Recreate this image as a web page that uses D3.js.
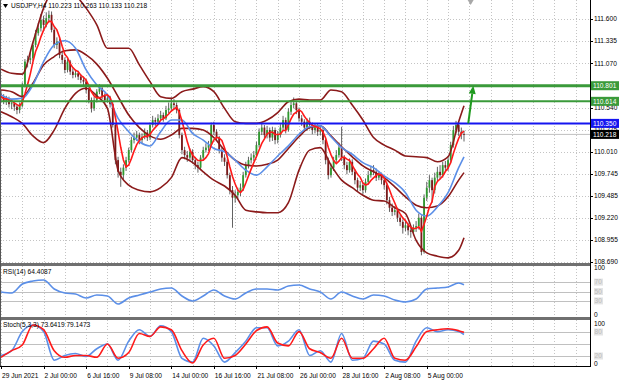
<!DOCTYPE html>
<html><head><meta charset="utf-8">
<script src="https://cdn.jsdelivr.net/npm/d3@7/dist/d3.min.js"></script>
<style>body{margin:0;background:#fff}svg{display:block}text{font-family:"Liberation Sans",Arial,sans-serif}</style>
</head><body><svg id="c" width="620" height="382"></svg>
<script>
// ---------- DATA ----------
const symbol = "USDJPY,H4";
const lastOHLC = [110.223, 110.263, 110.133, 110.218];
const firstOpen = 110.70;
const closes = [110.67,110.62,110.64,110.58,110.59,110.55,110.51,110.56,110.81,111.09,
111.11,111.13,111.29,111.43,111.49,111.59,111.53,111.61,111.65,111.47,
111.29,111.33,111.17,111.11,110.99,111.09,110.97,110.93,110.95,110.91,
110.87,110.85,110.75,110.63,110.53,110.63,110.73,110.77,110.68,110.63,
110.65,110.58,110.33,109.91,109.77,109.73,109.82,109.91,110.03,110.15,
110.18,110.21,110.15,110.19,110.24,110.18,110.33,110.39,110.37,110.41,
110.45,110.41,110.51,110.53,110.59,110.57,110.51,110.21,110.03,109.97,
109.94,110.01,109.91,109.85,109.82,109.94,110.03,110.06,110.09,110.33,
110.25,110.18,110.03,109.94,109.89,109.73,109.55,109.46,109.49,109.53,
109.58,109.73,109.85,109.91,109.94,109.97,110.09,110.25,110.30,110.21,
110.27,110.18,110.27,110.15,110.21,110.30,110.39,110.27,110.49,110.57,
110.59,110.51,110.41,110.37,110.30,110.37,110.33,110.27,110.30,110.25,
110.27,110.15,109.91,109.73,109.82,109.91,109.97,110.06,109.94,109.85,
109.79,109.89,109.77,109.67,109.58,109.61,109.55,109.65,109.73,109.79,
109.77,109.70,109.73,109.67,109.61,109.43,109.34,109.29,109.31,109.22,
109.17,109.10,109.13,109.07,109.05,109.10,109.12,109.22,108.81,109.46,
109.58,109.67,109.55,109.70,109.77,109.73,109.85,109.82,109.91,110.09,
110.27,110.33,110.25,110.223,110.218];
const highs = [110.74,110.70,110.68,110.67,110.63,110.62,110.58,110.60,110.84,111.12,
111.16,111.20,111.33,111.47,111.55,111.66,111.64,111.68,111.70,111.69,
111.50,111.38,111.36,111.22,111.14,111.12,111.11,111.01,110.99,110.98,
110.94,110.91,110.88,110.78,110.66,110.67,110.76,110.82,110.80,110.71,
110.70,110.68,110.60,110.35,109.95,109.82,109.86,109.95,110.06,110.19,
110.24,110.26,110.24,110.23,110.29,110.27,110.36,110.44,110.42,110.46,
110.50,110.48,110.56,110.60,110.66,110.64,110.60,110.53,110.24,110.07,
110.02,110.05,110.04,109.95,109.89,109.97,110.07,110.11,110.14,110.36,
110.37,110.28,110.20,110.06,109.98,109.92,109.76,109.60,109.55,109.58,
109.63,109.77,109.89,109.95,109.99,110.02,110.13,110.29,110.36,110.33,
110.32,110.30,110.31,110.30,110.26,110.34,110.44,110.42,110.53,110.63,
110.66,110.62,110.54,110.45,110.40,110.41,110.42,110.36,110.35,110.34,
110.31,110.30,110.17,109.94,109.87,109.95,110.03,110.12,110.31,109.97,
109.89,109.93,109.92,109.80,109.70,109.66,109.64,109.69,109.78,109.84,
109.85,109.81,109.78,109.76,109.70,109.64,109.47,109.39,109.36,109.34,
109.26,109.20,109.19,109.16,109.11,109.14,109.18,109.27,109.25,109.50,
109.65,109.73,109.70,109.76,109.83,109.85,109.89,109.90,109.96,110.13,
110.32,110.38,110.36,110.30,110.263];
const lows = [110.62,110.58,110.57,110.54,110.52,110.50,110.46,110.47,110.54,110.78,
111.02,111.06,111.10,111.26,111.40,111.45,111.47,111.50,111.56,111.44,
111.25,111.24,111.13,111.06,110.95,110.96,110.93,110.89,110.90,110.87,
110.83,110.80,110.71,110.59,110.48,110.50,110.60,110.70,110.64,110.59,
110.60,110.54,110.30,109.86,109.70,109.59,109.68,109.78,109.88,110.00,
110.11,110.14,110.10,110.11,110.16,110.14,110.15,110.30,110.32,110.34,
110.38,110.37,110.39,110.47,110.50,110.52,110.47,110.17,109.98,109.92,
109.89,109.90,109.87,109.80,109.76,109.79,109.91,110.00,110.02,110.06,
110.21,110.14,109.99,109.89,109.84,109.69,109.50,109.10,109.40,109.44,
109.48,109.54,109.70,109.81,109.87,109.90,109.94,110.06,110.21,110.17,
110.17,110.13,110.14,110.10,110.11,110.18,110.27,110.23,110.25,110.45,
110.53,110.46,110.37,110.32,110.25,110.26,110.28,110.22,110.23,110.20,
110.21,110.10,109.86,109.68,109.70,109.78,109.88,109.94,109.90,109.80,
109.74,109.76,109.73,109.62,109.53,109.54,109.50,109.52,109.62,109.70,
109.73,109.66,109.67,109.62,109.56,109.38,109.29,109.24,109.25,109.17,
109.12,109.03,109.06,109.01,108.98,109.01,109.05,109.08,108.77,108.79,
109.42,109.52,109.40,109.51,109.66,109.68,109.70,109.77,109.78,109.88,
110.06,110.23,110.20,110.16,110.133];

// indicator readings at these bar indices
const sampleIdx = [0,4,8,12,16,20,24,28,32,36,40,44,48,52,56,60,64,68,72,76,80,84,88,92,96,100,104,108,112,116,120,124,128,132,136,140,144,148,152,156,160,164,168,172,174];
const bbUpper = [111.00,110.95,110.94,111.32,111.73,111.97,112.04,111.89,111.73,111.53,111.25,111.25,111.25,111.05,110.85,110.67,110.65,110.73,110.76,110.79,110.73,110.53,110.37,110.35,110.35,110.39,110.48,110.61,110.64,110.63,110.63,110.75,110.73,110.57,110.39,110.18,110.09,110.03,109.96,109.95,109.94,109.89,109.95,110.37,110.56];
const bbMiddle = [110.75,110.73,110.67,110.83,111.05,111.15,111.22,111.23,111.17,111.06,110.89,110.67,110.45,110.30,110.20,110.16,110.21,110.29,110.29,110.27,110.18,110.03,109.91,109.85,109.84,109.86,109.91,110.05,110.19,110.30,110.32,110.20,110.07,109.95,109.84,109.77,109.70,109.59,109.47,109.37,109.34,109.36,109.47,109.67,109.76];
const bbLower = [110.49,110.43,110.35,110.20,110.12,110.27,110.53,110.71,110.77,110.68,110.53,109.79,109.61,109.55,109.53,109.58,109.70,109.94,109.88,109.77,109.67,109.60,109.49,109.31,109.29,109.28,109.28,109.40,109.79,110.03,110.06,109.85,109.67,109.58,109.49,109.43,109.42,109.34,109.27,108.95,108.80,108.76,108.74,108.83,108.98];
const maSlow = [110.69,110.64,110.65,110.81,111.09,111.29,111.34,111.25,110.99,110.81,110.69,110.41,110.25,110.13,110.08,110.25,110.39,110.39,110.23,110.15,110.05,110.01,109.91,109.79,109.73,109.83,109.96,110.08,110.22,110.31,110.32,110.19,110.06,109.98,109.88,109.82,109.72,109.64,109.52,109.31,109.24,109.35,109.52,109.82,109.95];
const maFastPeriod = 5;
const rsi = [48.9,46.8,66.0,72.3,74.5,55.3,46.8,44.7,36.2,42.6,40.4,23.4,36.2,42.6,48.9,55.3,57.4,40.4,29.8,40.4,53.2,40.4,34.0,46.8,55.3,55.3,53.2,61.7,63.8,55.3,48.9,34.0,48.9,40.4,34.0,42.6,40.4,31.9,27.7,34.0,55.3,57.4,59.6,68.1,64.4087];
const stochMain = [21.4,33.3,81,97.6,81,9.5,21.4,26.2,19,38.1,50,9.5,57.1,85.7,69,95.2,81,14.3,4.8,64.3,45.2,4.8,28.6,57.1,90.5,90.5,45.2,57.1,85.7,21.4,33.3,4.8,76.2,9.5,14.3,57.1,50,9.5,4.8,57.1,90.5,81,85.7,81,73.6419];
const stochSignal = [16.7,33.3,47.6,97.6,85.7,33.3,16.7,21.4,21.4,16.7,50,14.3,28.6,76.2,69,92.9,85.7,33.3,2.4,47.6,64.3,14.3,21.4,50,83.3,92.9,52.4,45.2,81,38.1,28.6,14.3,64.3,14.3,14.3,38.1,64.3,14.3,9.5,42.9,81,85.7,88.1,83.3,79.1473];

const priceTicks = ["111.600","111.335","111.070","110.805","110.540","110.275","110.010","109.745","109.485","109.220","108.955","108.690"];
const levels = [{v:110.801,c:"#3a9a3a",w:3},{v:110.614,c:"#3a9a3a",w:2},{v:110.350,c:"#1515f0",w:2}];
const arrowFrom = [175.6, 110.35], arrowTo = [177.5, 110.80];
const timeIdx = [0,16,32,48,64,80,96,112,128,144,160];
const timeLabels = ["29 Jun 2021","2 Jul 00:00","6 Jul 16:00","9 Jul 08:00","14 Jul 00:00","16 Jul 16:00","21 Jul 08:00","26 Jul 00:00","28 Jul 16:00","2 Aug 08:00","5 Aug 00:00"];
const rsiLevels = [70,50,30];
const stochLevels = [80,50,20];

// ---------- DRAW ----------
const svg = d3.select("#c");
const R = 590;                      // right edge of plots
const main = {t:0,b:263}, rp = {t:266,b:317}, sp = {t:320,b:366};
const x = d3.scaleLinear().domain([0,174]).range([1,464]);
const yM = d3.scaleLinear().domain([108.690,111.600]).range([262,19]);
const yR = d3.scaleLinear().domain([0,100]).range([315,268]);
const yS = d3.scaleLinear().domain([0,100]).range([364,324]);
const fmt = d3.format(".3f");

const defs = svg.append("defs");
[["cm",main],["cr",rp],["cs",sp]].forEach(([id,p])=>{
  defs.append("clipPath").attr("id",id).append("rect").attr("x",0).attr("y",p.t).attr("width",R).attr("height",p.b-p.t);
});

// vertical grid
const gridIdx = d3.range(0, 224, 8);
[main,rp,sp].forEach(p=>{
  svg.append("g").selectAll("line").data(gridIdx).join("line")
    .attr("x1",d=>Math.round(x(d))+0.5).attr("x2",d=>Math.round(x(d))+0.5)
    .attr("y1",p.t).attr("y2",p.b).attr("stroke","#c4c4c4").attr("stroke-dasharray","1,2");
});
// horizontal grid main
svg.append("g").selectAll("line").data(priceTicks).join("line")
  .attr("x1",0).attr("x2",R).attr("y1",d=>Math.round(yM(+d))+0.5).attr("y2",d=>Math.round(yM(+d))+0.5)
  .attr("stroke","#c4c4c4").attr("stroke-dasharray","1,2");
// level lines rsi/stoch
svg.append("g").selectAll("line").data(rsiLevels).join("line")
  .attr("x1",0).attr("x2",R).attr("y1",d=>Math.round(yR(d))+0.5).attr("y2",d=>Math.round(yR(d))+0.5).attr("stroke","#c0c0c0");
svg.append("g").selectAll("line").data(stochLevels).join("line")
  .attr("x1",0).attr("x2",R).attr("y1",d=>Math.round(yS(d))+0.5).attr("y2",d=>Math.round(yS(d))+0.5).attr("stroke","#c0c0c0");

// current price line
const lastClose = closes[closes.length-1];
svg.append("line").attr("x1",0).attr("x2",R).attr("y1",yM(lastClose)).attr("y2",yM(lastClose)).attr("stroke","#c0c0c0");

// candles
const bars = closes.map((c,i)=>({i, o: i===0?firstOpen:closes[i-1], h:highs[i], l:lows[i], c}));
const gm = svg.append("g").attr("clip-path","url(#cm)");
gm.append("g").selectAll("line").data(bars).join("line")
  .attr("x1",d=>x(d.i)).attr("x2",d=>x(d.i)).attr("y1",d=>yM(d.h)).attr("y2",d=>yM(d.l))
  .attr("stroke","#3a3a3a").attr("stroke-width",0.8);
gm.append("g").selectAll("rect").data(bars).join("rect")
  .attr("x",d=>x(d.i)-0.9).attr("width",1.8)
  .attr("y",d=>yM(Math.max(d.o,d.c))).attr("height",d=>Math.max(0.8,Math.abs(yM(d.o)-yM(d.c))))
  .attr("fill",d=>d.c>=d.o?"#2f9a2f":"#7a1a1a");

// indicator lines
const lineIdx = (arr, ys) => d3.line().x((d,k)=>x(sampleIdx[k])).y(d=>ys(d)).curve(d3.curveMonotoneX)(arr);
[[bbUpper,"#8b1a1a"],[bbMiddle,"#8b1a1a"],[bbLower,"#8b1a1a"],[maSlow,"#5b8fe8"]].forEach(([a,c])=>{
  gm.append("path").attr("d",lineIdx(a,yM)).attr("fill","none").attr("stroke",c).attr("stroke-width",1.6);
});
const fast = closes.map((c,i)=>{const s=closes.slice(Math.max(0,i-maFastPeriod+1),i+1);return {i,v:d3.mean(s)};});
gm.append("path").attr("d",d3.line().x(d=>x(d.i)).y(d=>yM(d.v))(fast)).attr("fill","none").attr("stroke","#ff1a1a").attr("stroke-width",1.6);

// horizontal level lines
gm.append("g").selectAll("line").data(levels).join("line")
  .attr("x1",0).attr("x2",R).attr("y1",d=>yM(d.v)).attr("y2",d=>yM(d.v))
  .attr("stroke",d=>d.c).attr("stroke-width",d=>d.w);

// arrow
const ax1=x(arrowFrom[0]), ay1=yM(arrowFrom[1]), ax2=x(arrowTo[0]), ay2=yM(arrowTo[1]);
const ang=Math.atan2(ay2-ay1,ax2-ax1), hl=8, hw=3.5;
const bx=ax2-hl*Math.cos(ang), by=ay2-hl*Math.sin(ang);
gm.append("line").attr("x1",ax1).attr("y1",ay1).attr("x2",bx).attr("y2",by).attr("stroke","#1f9a1f").attr("stroke-width",2);
gm.append("path").attr("d",`M${ax2},${ay2}L${bx+hw*Math.sin(ang)},${by-hw*Math.cos(ang)}L${bx-hw*Math.sin(ang)},${by+hw*Math.cos(ang)}Z`).attr("fill","#1f9a1f");

// chart shift marker
const sx = x(176.5);
svg.append("path").attr("d",`M${sx-3},0L${sx+3},0L${sx},5Z`).attr("fill","#a8a8a8");

// RSI
svg.append("g").attr("clip-path","url(#cr)").append("path").attr("d",lineIdx(rsi,yR)).attr("fill","none").attr("stroke","#5b8fe8").attr("stroke-width",1.6);
// Stochastic
const gs = svg.append("g").attr("clip-path","url(#cs)");
gs.append("path").attr("d",lineIdx(stochMain,yS)).attr("fill","none").attr("stroke","#5b8fe8").attr("stroke-width",1.6);
gs.append("path").attr("d",lineIdx(stochSignal,yS)).attr("fill","none").attr("stroke","#ff1a1a").attr("stroke-width",1.6);

// panel separators and borders
svg.append("rect").attr("x",0).attr("y",263).attr("width",R+1).attr("height",3).attr("fill","#707070");
svg.append("rect").attr("x",0).attr("y",317).attr("width",R+1).attr("height",3).attr("fill","#707070");
svg.append("line").attr("x1",R+0.5).attr("x2",R+0.5).attr("y1",0).attr("y2",366).attr("stroke","#000");
svg.append("line").attr("x1",0).attr("x2",R+1).attr("y1",366.5).attr("y2",366.5).attr("stroke","#000");
svg.append("line").attr("x1",0.5).attr("x2",0.5).attr("y1",0).attr("y2",366).attr("stroke","#555");

// right price axis
const ax = svg.append("g").attr("font-size","6.6px").attr("fill","#000");
priceTicks.forEach(t=>{
  const yy=yM(+t);
  ax.append("line").attr("x1",R).attr("x2",R+3).attr("y1",Math.round(yy)+0.5).attr("y2",Math.round(yy)+0.5).attr("stroke","#000");
  ax.append("text").attr("x",R+4).attr("y",yy).attr("dy","0.35em").text(t);
});
const boxes = levels.map(l=>({v:l.v,c:l.c,tc:"#fff"})).concat([{v:lastClose,c:"#000",tc:"#fff"}]);
boxes.forEach(b=>{
  const yy=yM(b.v);
  ax.append("rect").attr("x",R+1).attr("y",yy-4.5).attr("width",28).attr("height",9).attr("fill",b.c);
  ax.append("text").attr("x",R+3).attr("y",yy).attr("dy","0.35em").attr("fill",b.tc).text(fmt(b.v));
});
// rsi axis
[[100,"#000",false],[0,"#000",false]].forEach(([v])=>{
  ax.append("text").attr("x",R+4).attr("y",yR(v)).attr("dy","0.35em").text(v);
});
rsiLevels.forEach(v=>{
  ax.append("rect").attr("x",R+4).attr("y",yR(v)-3.5).attr("width",9).attr("height",7).attr("fill","#e4e4e4");
  ax.append("text").attr("x",R+4.5).attr("y",yR(v)).attr("dy","0.35em").attr("fill","#bbb").text(v);
});
[100,0].forEach(v=>ax.append("text").attr("x",R+4).attr("y",yS(v)).attr("dy","0.35em").text(v));
[80,20].forEach(v=>{
  ax.append("rect").attr("x",R+4).attr("y",yS(v)-3.5).attr("width",9).attr("height",7).attr("fill","#e4e4e4");
  ax.append("text").attr("x",R+4.5).attr("y",yS(v)).attr("dy","0.35em").attr("fill","#bbb").text(v);
});

// time axis
const tx = svg.append("g").attr("font-size","6.6px").attr("fill","#000");
timeIdx.forEach((ti,k)=>{
  const xx=Math.round(x(ti))+0.5;
  tx.append("line").attr("x1",xx).attr("x2",xx).attr("y1",366).attr("y2",369).attr("stroke","#000");
  tx.append("text").attr("x",x(ti)+1).attr("y",376).attr("dy","0.35em").text(timeLabels[k]);
});

// titles
const tt = svg.append("g").attr("font-size","6.6px").attr("fill","#000");
tt.append("path").attr("d","M3,4L8,4L5.5,8Z").attr("fill","#000");
tt.append("text").attr("x",11).attr("y",6).attr("dy","0.35em").text(symbol+"  "+lastOHLC.map(fmt).join(" "));
tt.append("text").attr("x",3).attr("y",272).attr("dy","0.35em").text("RSI(14) "+rsi[rsi.length-1].toFixed(4));
tt.append("text").attr("x",3).attr("y",325).attr("dy","0.35em").text("Stoch(5,3,3) "+stochMain[stochMain.length-1].toFixed(4)+" "+stochSignal[stochSignal.length-1].toFixed(4));
</script></body></html>
